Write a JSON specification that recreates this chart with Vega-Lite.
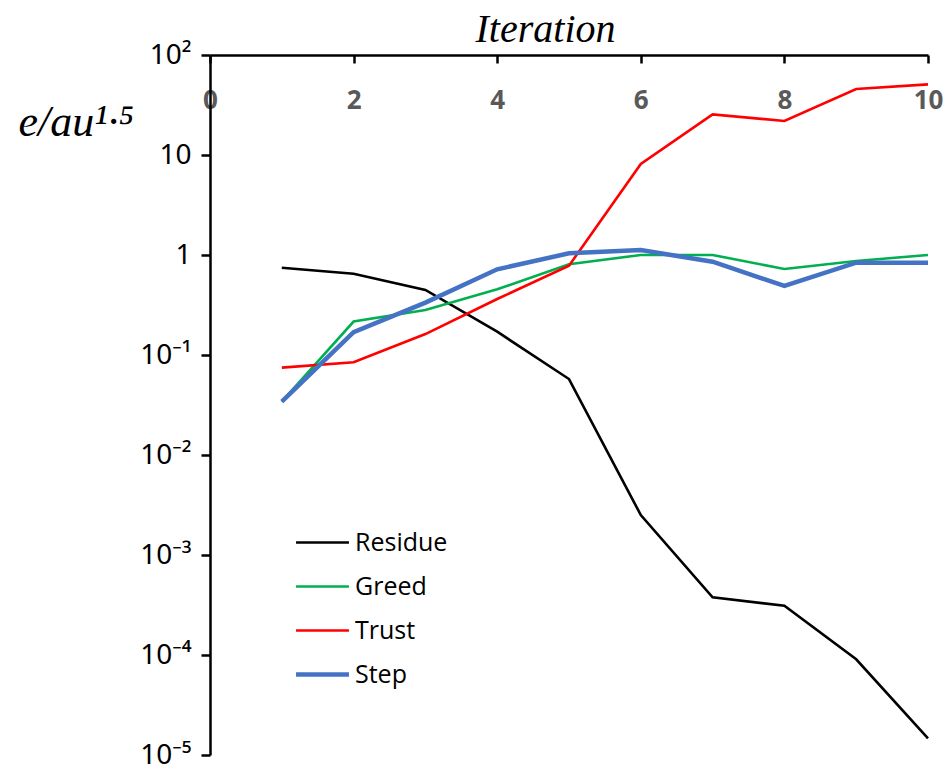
{
  "$schema": "https://vega.github.io/schema/vega-lite/v6.json",
  "autosize": {"type": "none"},
  "padding": {"left": 210, "top": 55, "right": 16, "bottom": 15},
  "width": 718,
  "height": 700,
  "background": "white",
  "data": {
    "values": [
      {"it": 1, "series": "Residue", "e": 0.746},
      {"it": 2, "series": "Residue", "e": 0.65},
      {"it": 3, "series": "Residue", "e": 0.447},
      {"it": 4, "series": "Residue", "e": 0.171},
      {"it": 5, "series": "Residue", "e": 0.0575},
      {"it": 6, "series": "Residue", "e": 0.00251},
      {"it": 7, "series": "Residue", "e": 0.000377},
      {"it": 8, "series": "Residue", "e": 0.000311},
      {"it": 9, "series": "Residue", "e": 0.0000906},
      {"it": 10, "series": "Residue", "e": 0.0000147},
      {"it": 1, "series": "Greed", "e": 0.0341},
      {"it": 2, "series": "Greed", "e": 0.216},
      {"it": 3, "series": "Greed", "e": 0.282},
      {"it": 4, "series": "Greed", "e": 0.454},
      {"it": 5, "series": "Greed", "e": 0.807},
      {"it": 6, "series": "Greed", "e": 1.0},
      {"it": 7, "series": "Greed", "e": 1.0},
      {"it": 8, "series": "Greed", "e": 0.724},
      {"it": 9, "series": "Greed", "e": 0.871},
      {"it": 10, "series": "Greed", "e": 1.0},
      {"it": 1, "series": "Trust", "e": 0.0747},
      {"it": 2, "series": "Trust", "e": 0.0845},
      {"it": 3, "series": "Trust", "e": 0.162},
      {"it": 4, "series": "Trust", "e": 0.363},
      {"it": 5, "series": "Trust", "e": 0.782},
      {"it": 6, "series": "Trust", "e": 8.13},
      {"it": 7, "series": "Trust", "e": 25.5},
      {"it": 8, "series": "Trust", "e": 21.9},
      {"it": 9, "series": "Trust", "e": 45.7},
      {"it": 10, "series": "Trust", "e": 50.9},
      {"it": 1, "series": "Step", "e": 0.0341},
      {"it": 2, "series": "Step", "e": 0.169},
      {"it": 3, "series": "Step", "e": 0.334},
      {"it": 4, "series": "Step", "e": 0.719},
      {"it": 5, "series": "Step", "e": 1.04},
      {"it": 6, "series": "Step", "e": 1.12},
      {"it": 7, "series": "Step", "e": 0.857},
      {"it": 8, "series": "Step", "e": 0.49},
      {"it": 9, "series": "Step", "e": 0.838},
      {"it": 10, "series": "Step", "e": 0.838}
    ]
  },
  "mark": {"type": "line", "strokeCap": "butt", "strokeJoin": "miter"},
  "encoding": {
    "x": {
      "field": "it",
      "type": "quantitative",
      "scale": {"domain": [0, 10], "nice": false, "zero": false},
      "axis": {
        "orient": "top",
        "title": "Iteration",
        "titleFont": "Liberation Serif",
        "titleFontStyle": "italic",
        "titleFontWeight": "normal",
        "titleFontSize": 40,
        "titleColor": "black",
        "titleX": 335,
        "titleY": -14,
        "titleAnchor": "middle",
        "titleAlign": "center",
        "titleBaseline": "alphabetic",
        "values": [0, 2, 4, 6, 8, 10],
        "grid": false,
        "domainColor": "black",
        "domainWidth": 2.5,
        "tickColor": "black",
        "tickWidth": 2.5,
        "tickSize": -8,
        "labelPadding": -45,
        "labelBaseline": "alphabetic",
        "labelFlush": false,
        "labelOverlap": false,
        "labelFont": "Liberation Sans Narrow, Open Sans",
        "labelFontWeight": "bold",
        "labelFontSize": 26,
        "labelColor": "#595959"
      }
    },
    "y": {
      "field": "e",
      "type": "quantitative",
      "scale": {"type": "log", "domain": [0.00001, 100], "nice": false},
      "axis": {
        "title": "e/au¹·⁵",
        "titleFont": "Liberation Serif",
        "titleFontStyle": "italic",
        "titleFontWeight": "normal",
        "titleFontSize": 44,
        "titleColor": "black",
        "titleAngle": 0,
        "titleAlign": "left",
        "titleBaseline": "alphabetic",
        "titleX": -192,
        "titleY": 80,
        "values": [0.00001, 0.0001, 0.001, 0.01, 0.1, 1, 10, 100],
        "labelExpr": "datum.value > 50 ? '10²' : datum.value > 5 ? '10' : datum.value > 0.5 ? '1' : datum.value > 0.05 ? '10⁻¹' : datum.value > 0.005 ? '10⁻²' : datum.value > 0.0005 ? '10⁻³' : datum.value > 0.00005 ? '10⁻⁴' : '10⁻⁵'",
        "grid": false,
        "domainColor": "black",
        "domainWidth": 2.5,
        "tickColor": "black",
        "tickWidth": 2.5,
        "tickSize": 9,
        "labelPadding": 10,
        "labelFont": "Noto Sans",
        "labelFontSize": 28,
        "labelColor": "black",
        "labelBaseline": "middle",
        "labelFlush": false,
        "labelOverlap": false
      }
    },
    "color": {
      "field": "series",
      "type": "nominal",
      "scale": {
        "domain": ["Residue", "Greed", "Trust", "Step"],
        "range": ["#000000", "#00B050", "#FF0000", "#4472C4"]
      },
      "legend": {
        "orient": "none",
        "legendX": 100,
        "legendY": 475,
        "title": null,
        "symbolType": "stroke",
        "symbolSize": 2800,
        "labelFont": "Open Sans",
        "labelFontSize": 25,
        "labelColor": "black",
        "labelOffset": 20,
        "rowPadding": 18,
        "encode": {
          "symbols": {
            "update": {
              "strokeWidth": {"signal": "datum.label === 'Step' ? 4.5 : 2.6"}
            }
          }
        }
      }
    },
    "strokeWidth": {
      "condition": {"test": "datum.series === 'Step'", "value": 4.5},
      "value": 2.6
    }
  },
  "config": {"view": {"stroke": null}}
}
